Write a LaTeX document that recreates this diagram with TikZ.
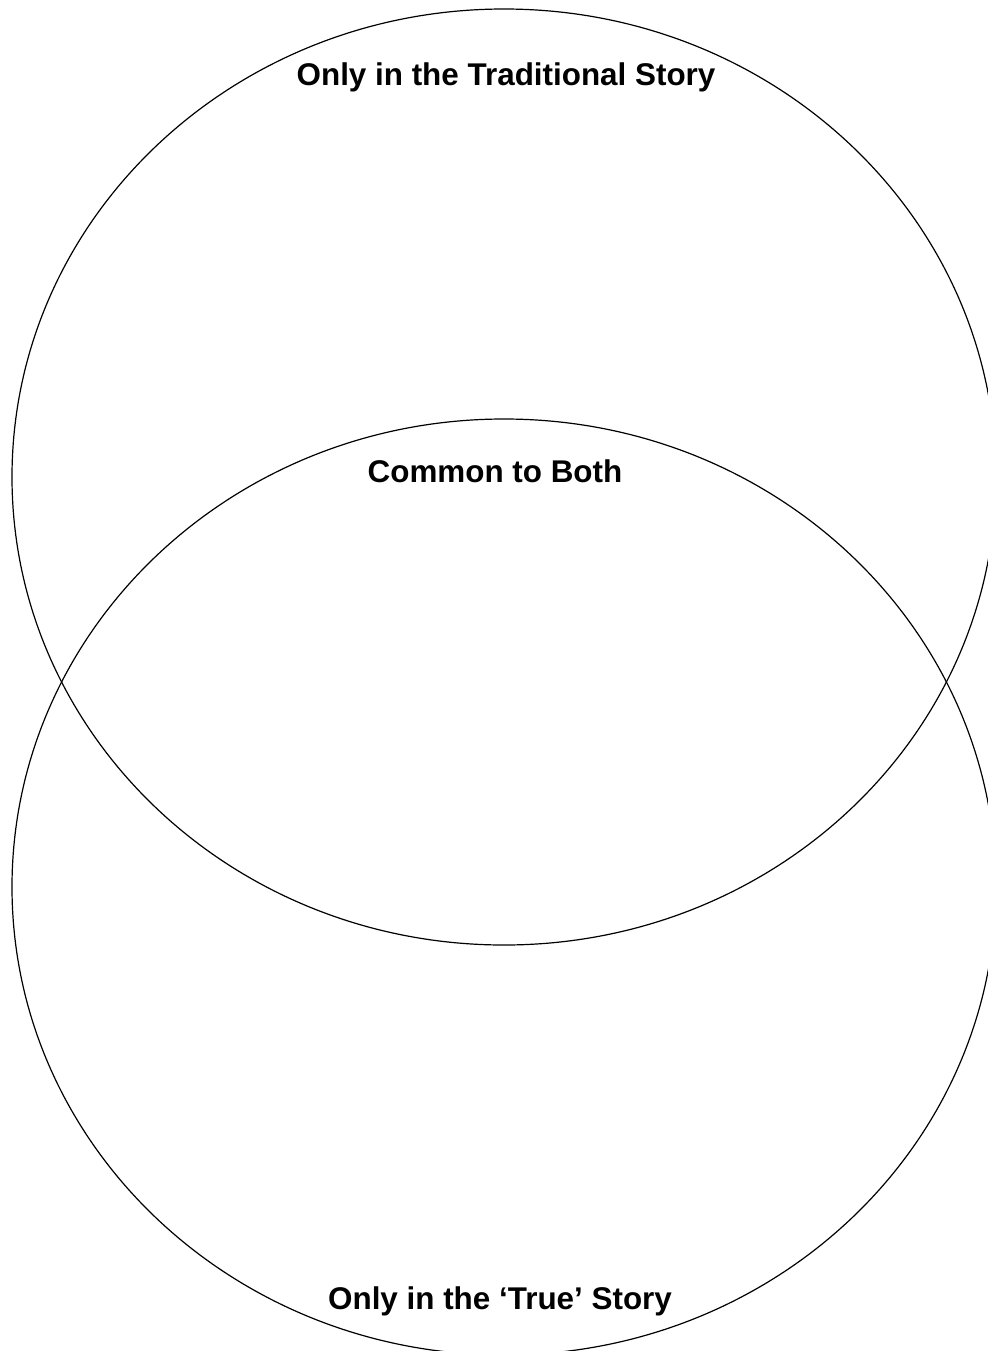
\documentclass[tikz,border=0pt]{standalone}
\usepackage{fontspec}
\setmainfont{Liberation Sans}
\usepackage{tikz}
\usetikzlibrary{positioning}
\tikzset{
  vennring/.style ={draw=black, line width=0.6pt},
  vennlabel/.style={font=\fontsize{15.7}{18}\selectfont\bfseries,
                    anchor=base, inner sep=0pt},
}

\begin{document}
\begin{tikzpicture}[x=0.5pt, y=-0.5pt]
  \useasboundingbox (0,0) rectangle (988,1351);
  \clip (0,0) rectangle (988,1351);

  % the two story rings
  \draw[vennring] (504,477) ellipse [x radius=246pt, y radius=234pt];
  \draw[vennring] (504,887) ellipse [x radius=246pt, y radius=234pt];

  \node[vennlabel] (trad) at (506,85)   {Only in the Traditional Story};
  \node[vennlabel] (both) at (495,482)  {Common to Both};
  \node[vennlabel] (true) at (500,1309) {Only in the `True' Story};
\end{tikzpicture}
\end{document}
